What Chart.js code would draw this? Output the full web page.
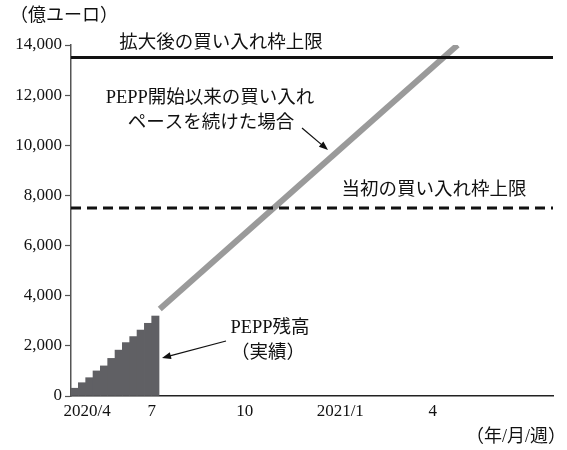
<!DOCTYPE html>
<html>
<head>
<meta charset="utf-8">
<script src="https://cdn.jsdelivr.net/npm/chart.js@4/dist/chart.umd.min.js"></script>
<style>
  html, body { margin: 0; padding: 0; background: #fff; }
  canvas { display: block; }
</style>
</head>
<body>
<canvas id="chart" width="567" height="450"></canvas>
<script>
// weekly PEPP balance (億ユーロ)
const peppWeeks = [1, 2, 3, 4, 5, 6, 7, 8, 9, 10, 11, 12];
const peppBalance = [310, 530, 730, 1000, 1200, 1500, 1830, 2130, 2370, 2630, 2900, 3190];

// pace since PEPP start, extended
const paceWeeks = [12.6, 53.2];
const paceValues = [3470, 14000];

// purchase envelope limits
const limitWeeks = [0.5, 66.2];
const expandedLimit = 13500;
const initialLimit = 7500;

// x-axis labels (年/月)
const xTickWeeks = [2.7, 11.5, 24.2, 37.2, 49.8];
const xTickLabels = ['2020/4', '7', '10', '2021/1', '4'];

const yTicks = [0, 2000, 4000, 6000, 8000, 10000, 12000, 14000];

const SERIF = '"Liberation Serif", "Noto Sans CJK JP", serif';

function pts(xs, ys) {
  return xs.map((x, i) => ({ x: x, y: ys[i] }));
}

function arrow(ctx, x1, y1, x2, y2) {
  const a = Math.atan2(y2 - y1, x2 - x1);
  const len = 9, w = 3.5;
  ctx.beginPath();
  ctx.moveTo(x1, y1);
  ctx.lineTo(x2 - Math.cos(a) * len * 0.8, y2 - Math.sin(a) * len * 0.8);
  ctx.stroke();
  ctx.beginPath();
  ctx.moveTo(x2, y2);
  ctx.lineTo(x2 - Math.cos(a) * len - Math.sin(a) * w, y2 - Math.sin(a) * len + Math.cos(a) * w);
  ctx.lineTo(x2 - Math.cos(a) * len + Math.sin(a) * w, y2 - Math.sin(a) * len - Math.cos(a) * w);
  ctx.closePath();
  ctx.fill();
}

// captions and arrows
const notes = {
  id: 'notes',
  afterDraw(chart) {
    const ctx = chart.ctx;
    ctx.save();
    ctx.fillStyle = '#111';
    ctx.strokeStyle = '#111';
    ctx.lineWidth = 1.2;
    ctx.textBaseline = 'middle';

    ctx.font = '18px ' + SERIF;
    ctx.textAlign = 'left';
    ctx.fillText('（億ユーロ）', 10, 16);
    ctx.textAlign = 'right';
    ctx.fillText('（年/月/週）', 566, 437);

    ctx.font = '18.5px ' + SERIF;
    ctx.textAlign = 'center';
    ctx.fillText('拡大後の買い入れ枠上限', 221, 43);
    ctx.fillText('PEPP開始以来の買い入れ', 210, 98);
    ctx.fillText('ペースを続けた場合', 211, 123);
    ctx.fillText('当初の買い入れ枠上限', 434, 190);
    ctx.fillText('PEPP残高', 270, 328);
    ctx.fillText('（実績）', 268, 353);

    arrow(ctx, 302, 128, 328, 150);
    arrow(ctx, 226, 341, 162, 358);
    ctx.restore();
  }
};

new Chart(document.getElementById('chart'), {
  data: {
    datasets: [
      {
        type: 'line',
        data: pts(limitWeeks, [expandedLimit, expandedLimit]),
        borderColor: '#111',
        borderWidth: 3,
        pointRadius: 0,
        order: 0
      },
      {
        type: 'line',
        data: pts(limitWeeks, [initialLimit, initialLimit]),
        borderColor: '#111',
        borderWidth: 3,
        borderDash: [10, 6],
        pointRadius: 0,
        order: 0
      },
      {
        type: 'line',
        data: pts(paceWeeks, paceValues),
        borderColor: '#9a9a9a',
        borderWidth: 6,
        borderCapStyle: 'butt',
        pointRadius: 0,
        order: 1
      },
      {
        type: 'bar',
        data: pts(peppWeeks, peppBalance),
        backgroundColor: '#606064',
        borderWidth: 0,
        barPercentage: 1,
        categoryPercentage: 1,
        order: 2
      }
    ]
  },
  options: {
    responsive: false,
    animation: false,
    devicePixelRatio: 1,
    layout: { padding: { top: 45, right: 14, left: 0, bottom: 0 } },
    plugins: {
      legend: { display: false },
      tooltip: { enabled: false }
    },
    scales: {
      x: {
        type: 'linear',
        offset: false,
        min: limitWeeks[0],
        max: limitWeeks[1],
        grid: { display: false, drawTicks: false, offset: false },
        border: { color: '#222', width: 1.5 },
        afterBuildTicks: (axis) => {
          axis.ticks = xTickWeeks.map(v => ({ value: v }));
        },
        afterFit: (axis) => { axis.height = 54; },
        ticks: {
          autoSkip: false,
          maxRotation: 0,
          padding: 5,
          color: '#111',
          font: { family: SERIF, size: 17 },
          callback: (v, i) => xTickLabels[i]
        }
      },
      y: {
        min: 0,
        max: 14000,
        afterBuildTicks: (axis) => {
          axis.ticks = yTicks.map(v => ({ value: v }));
        },
        afterFit: (axis) => { axis.width = 71; },
        grid: {
          drawOnChartArea: false,
          tickLength: 6,
          tickColor: '#555',
          tickWidth: 1.2
        },
        border: { color: '#555', width: 1.5 },
        ticks: {
          padding: 3,
          color: '#111',
          font: { family: SERIF, size: 17 },
          callback: (v) => v.toLocaleString('en-US')
        }
      }
    }
  },
  plugins: [notes]
});
</script>
</body>
</html>
